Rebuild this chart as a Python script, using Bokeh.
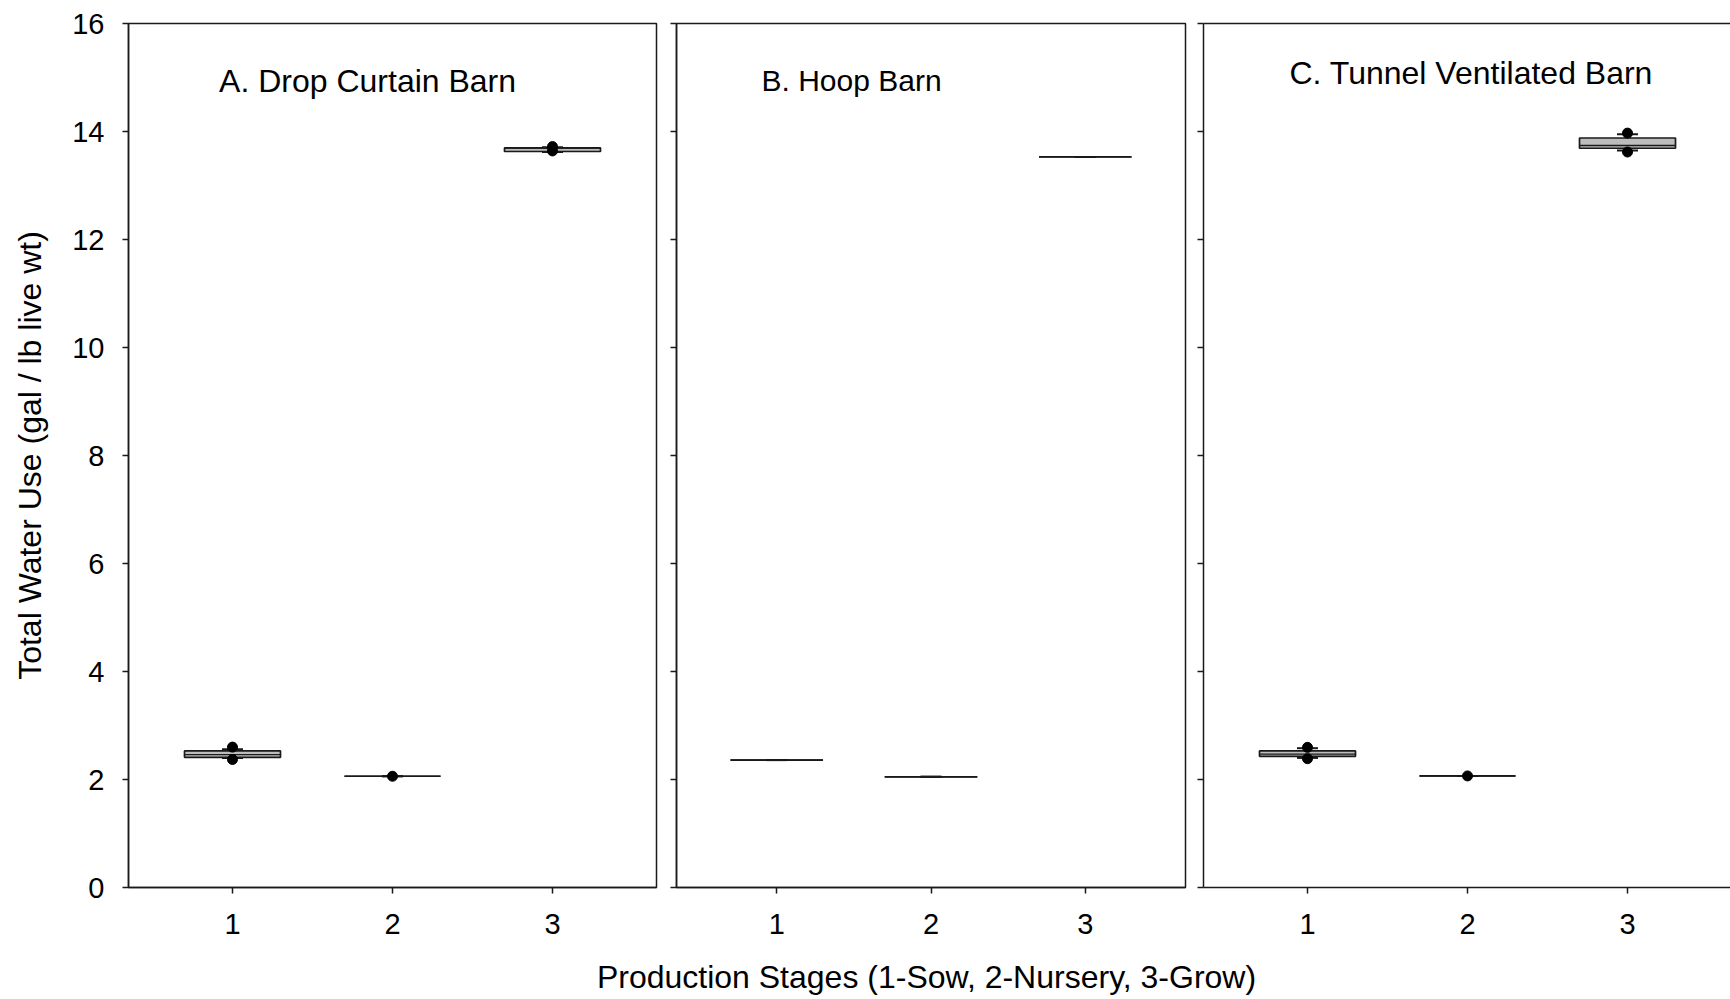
from bokeh.plotting import figure
from bokeh.layouts import row, column
from bokeh.models import Range1d, LinearAxis, Label, FixedTicker
from bokeh.embed import file_html
from bokeh.resources import INLINE

# ---------------- data ----------------
stages = [1, 2, 3]
x_tick_labels = ["1", "2", "3"]
y_ticks = [0, 2, 4, 6, 8, 10, 12, 14, 16]
panel_titles = ["A. Drop Curtain Barn", "B. Hoop Barn", "C. Tunnel Ventilated Barn"]
y_label = "Total Water Use (gal / lb live wt)"
x_label = "Production Stages (1-Sow, 2-Nursery, 3-Grow)"

# A. Drop Curtain Barn
a_q1 = [2.41, 2.06, 13.63]
a_med = [2.46, 2.06, 13.695]
a_q3 = [2.53, 2.06, 13.695]
a_wlo = [2.40, 2.06, 13.62]
a_whi = [2.56, 2.06, 13.71]
a_out_x = [1, 1, 2, 3, 3]
a_out_y = [2.37, 2.60, 2.06, 13.64, 13.72]

# B. Hoop Barn
b_q1 = [2.36, 2.05, 13.53]
b_med = [2.36, 2.05, 13.53]
b_q3 = [2.36, 2.05, 13.53]
b_wlo = [2.36, 2.05, 13.53]
b_whi = [2.36, 2.05, 13.53]
b_out_x = []
b_out_y = []

# C. Tunnel Ventilated Barn
c_q1 = [2.43, 2.066, 13.69]
c_med = [2.47, 2.066, 13.74]
c_q3 = [2.53, 2.066, 13.88]
c_wlo = [2.40, 2.066, 13.65]
c_whi = [2.58, 2.066, 13.95]
c_out_x = [1, 1, 2, 3, 3]
c_out_y = [2.385, 2.595, 2.066, 13.62, 13.97]

# ---------------- style ----------------
FONT = "Liberation Sans"
AX = "#1a1a1a"
BOX_W = 0.6
ROW_H = 950
TOP = 23
BOTTOM = 63


def style_axis(ax):
    ax.axis_line_color = AX
    ax.axis_line_width = 1.5
    ax.major_tick_line_color = AX
    ax.major_tick_line_width = 1.5
    ax.major_tick_out = 6
    ax.major_tick_in = 0
    ax.minor_tick_line_color = None
    ax.major_label_text_font = FONT
    ax.major_label_text_color = "black"
    ax.axis_label_text_font = FONT
    ax.axis_label_text_font_style = "normal"
    ax.axis_label_text_color = "black"
    ax.axis_label_text_font_size = "32px"


def make_panel(title, q1, med, q3, wlo, whi, ox, oy, width, left, right,
               xend, show_ylab, full_outline, title_xy, title_size):
    p = figure(width=width, height=ROW_H, x_range=Range1d(0.35, xend),
               y_range=Range1d(0, 16), output_backend="svg",
               toolbar_location=None, min_border_left=left,
               min_border_right=right, min_border_top=TOP,
               min_border_bottom=BOTTOM)
    p.xgrid.visible = False
    p.ygrid.visible = False
    p.background_fill_color = "white"
    p.border_fill_color = "white"

    xax = p.below[0]
    yax = p.left[0]
    style_axis(xax)
    style_axis(yax)

    xax.ticker = FixedTicker(ticks=stages)
    xax.major_label_overrides = {s: t for s, t in zip(stages, x_tick_labels)}
    xax.major_label_text_font_size = "29px"
    xax.major_label_standoff = 20

    yax.ticker = FixedTicker(ticks=y_ticks)
    if show_ylab:
        yax.major_label_text_font_size = "29px"
        yax.major_label_standoff = 18
        yax.axis_label = y_label
        yax.axis_label_standoff = 21
    else:
        yax.major_label_overrides = {t: "" for t in y_ticks}
        yax.major_label_standoff = 0
        yax.major_label_text_font_size = "1px"

    if full_outline:
        p.outline_line_color = AX
        p.outline_line_width = 1.5
    else:
        p.outline_line_color = None
        top = LinearAxis(ticker=FixedTicker(ticks=[]), axis_line_color=AX,
                         axis_line_width=1.5, major_tick_out=0, major_tick_in=0,
                         minor_tick_out=0, minor_tick_in=0,
                         major_label_standoff=0,
                         major_tick_line_color=None,
                         minor_tick_line_color=None,
                         major_label_text_font_size="1px")
        p.add_layout(top, "above")

    # whiskers
    p.segment(x0=stages, y0=q3, x1=stages, y1=whi, line_color=AX, line_width=1.6)
    p.segment(x0=stages, y0=q1, x1=stages, y1=wlo, line_color=AX, line_width=1.6)
    p.scatter(x=stages, y=whi, marker="dash", size=21, line_color=AX, line_width=2)
    p.scatter(x=stages, y=wlo, marker="dash", size=21, line_color=AX, line_width=2)
    # boxes
    p.vbar(x=stages, bottom=q1, top=q3, width=BOX_W, fill_color="#bdbdbd",
           line_color=AX, line_width=1.7)
    # medians
    p.segment(x0=[s - BOX_W / 2 for s in stages], y0=med,
              x1=[s + BOX_W / 2 for s in stages], y1=med,
              line_color=AX, line_width=1.4)
    # outliers
    if ox:
        p.scatter(x=ox, y=oy, marker="circle", size=10, fill_color="black",
                  line_color="black")

    p.add_layout(Label(x=title_xy[0], y=title_xy[1], text=title,
                       text_font=FONT, text_font_size=title_size,
                       text_baseline="middle", text_align="left",
                       text_color="black"))
    return p


pa = make_panel(panel_titles[0], a_q1, a_med, a_q3, a_wlo, a_whi, a_out_x, a_out_y,
                666, 128, 10, 3.65, True, True, (0.916, 14.94), "32px")
pb = make_panel(panel_titles[1], b_q1, b_med, b_q3, b_wlo, b_whi, b_out_x, b_out_y,
                527, 10, 8, 3.65, False, True, (0.901, 14.94), "30px")
pc = make_panel(panel_titles[2], c_q1, c_med, c_q3, c_wlo, c_whi, c_out_x, c_out_y,
                537, 10, 0, 0.35 + 527 / 160, False, False, (0.8875, 15.08), "32px")

# x-axis title spanning all three panels
LAB_H = 46
pl = figure(width=1730, height=LAB_H, x_range=Range1d(0, 1730),
            y_range=Range1d(0, LAB_H), output_backend="svg",
            toolbar_location=None, x_axis_location=None, y_axis_location=None,
            min_border=0)
pl.outline_line_color = None
pl.xgrid.visible = False
pl.ygrid.visible = False
pl.add_layout(Label(x=926, y=LAB_H - 26.5, text=x_label, text_font=FONT,
                    text_font_size="32px", text_align="center",
                    text_baseline="middle", text_color="black"))

layout = column(row(pa, pb, pc, spacing=0), pl, spacing=0)
open("out.html", "w").write(file_html(layout, INLINE))
